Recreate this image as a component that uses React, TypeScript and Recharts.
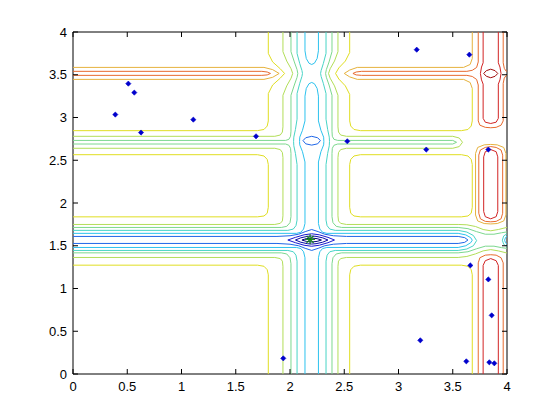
import { ScatterChart, Scatter, XAxis, YAxis } from "recharts";

// Contour plot with sample points. Every line below is one contour
// polyline, in data units (x and y both 0..4).

type P = [number, number];

const TICKS = [0, 0.5, 1, 1.5, 2, 2.5, 3, 3.5, 4];
const TICK_LABELS = ["0", "0.5", "1", "1.5", "2", "2.5", "3", "3.5", "4"];

const C_Y = "#E0DE22";
const C_YG = "#B2DE58";
const C_G = "#7CD88E";
const C_CG = "#48D4C6";
const C_C = "#2CC2EE";
const C_B = "#1E66E8";
const C_DB = "#1818D0";
const C_N1 = "#0808A8";
const C_N2 = "#00007C";
const C_O1 = "#E6B23E";
const C_O2 = "#E86A2E";
const C_R = "#D22424";
const C_DR = "#A00C0C";

// yellow level: edges of the white tiles
const Y_A: P[] = [[0, 2.846], [1.7, 2.846], [1.76, 2.86], [1.79, 2.9], [1.8, 2.96], [1.8, 3.28], [1.84, 3.38], [1.91, 3.46], [1.95, 3.515], [1.91, 3.57], [1.84, 3.65], [1.8, 3.75], [1.8, 4.0]];
const Y_B: P[] = [[0, 2.565], [1.7, 2.565], [1.76, 2.55], [1.79, 2.51], [1.8, 2.45], [1.8, 1.95], [1.79, 1.88], [1.76, 1.848], [1.7, 1.838], [0, 1.838]];
const Y_C: P[] = [[0, 1.273], [1.7, 1.273], [1.76, 1.26], [1.79, 1.22], [1.8, 1.16], [1.8, 0]];
const Y_D: P[] = [[2.55, 0], [2.55, 1.16], [2.56, 1.22], [2.59, 1.26], [2.65, 1.273], [3.58, 1.273], [3.64, 1.26], [3.67, 1.22], [3.68, 1.16], [3.68, 0]];
const Y_E: P[] = [[2.55, 1.95], [2.55, 2.45], [2.56, 2.51], [2.59, 2.55], [2.65, 2.565], [3.58, 2.565], [3.64, 2.55], [3.67, 2.51], [3.68, 2.45], [3.68, 1.95], [3.67, 1.88], [3.64, 1.848], [3.58, 1.838], [2.65, 1.838], [2.59, 1.848], [2.56, 1.88], [2.55, 1.95]];
const Y_F: P[] = [[2.55, 4.0], [2.55, 3.76], [2.51, 3.66], [2.45, 3.58], [2.42, 3.515], [2.45, 3.45], [2.51, 3.37], [2.55, 3.27], [2.55, 2.96], [2.56, 2.9], [2.59, 2.86], [2.65, 2.846], [3.58, 2.846], [3.64, 2.86], [3.67, 2.9], [3.68, 2.96], [3.68, 3.34]];
const O1_R: P[] = [[3.68, 3.34], [3.66, 3.41], [3.6, 3.446], [2.62, 3.446], [2.55, 3.475], [2.5, 3.515], [2.55, 3.555], [2.62, 3.586], [3.6, 3.586], [3.66, 3.62], [3.68, 3.69], [3.68, 4.0]];
const O1_L: P[] = [[0, 3.586], [1.76, 3.586], [1.84, 3.56], [1.9, 3.515], [1.84, 3.47], [1.76, 3.446], [0, 3.446]];
const O1_B: P[] = [[3.71, 1.86], [3.71, 2.58], [3.73, 2.65], [3.79, 2.68], [3.85, 2.685], [3.91, 2.68], [3.97, 2.65], [3.99, 2.58], [3.99, 1.86], [3.97, 1.79], [3.91, 1.76], [3.85, 1.755], [3.79, 1.76], [3.73, 1.79], [3.71, 1.86]];

// yellow-green level
const YG_A: P[] = [[0, 2.78], [1.86, 2.78], [1.91, 2.795], [1.93, 2.83], [1.935, 2.89], [1.935, 3.26], [1.97, 3.37], [2.01, 3.46], [2.025, 3.515], [2.01, 3.57], [1.97, 3.66], [1.935, 3.77], [1.935, 4.0]];
const YG_B: P[] = [[0, 2.64], [1.86, 2.64], [1.91, 2.625], [1.93, 2.59], [1.935, 2.53], [1.935, 1.85], [1.93, 1.79], [1.91, 1.762], [1.86, 1.749], [0, 1.749]];
const YG_C: P[] = [[0, 1.363], [1.86, 1.363], [1.91, 1.35], [1.93, 1.32], [1.935, 1.26], [1.935, 0]];
const YG_D: P[] = [[2.442, 0], [2.442, 1.26], [2.447, 1.32], [2.467, 1.35], [2.52, 1.363], [3.55, 1.363], [3.63, 1.375], [3.71, 1.405], [3.78, 1.44], [3.85, 1.455], [3.92, 1.44], [4.0, 1.415]];
const YG_E: P[] = [[4.0, 1.715], [3.92, 1.69], [3.85, 1.675], [3.78, 1.69], [3.71, 1.725], [3.63, 1.745], [3.55, 1.749], [2.52, 1.749], [2.467, 1.762], [2.447, 1.79], [2.442, 1.85], [2.442, 2.53], [2.447, 2.59], [2.467, 2.625], [2.52, 2.64], [3.5, 2.64], [3.56, 2.66], [3.59, 2.71], [3.56, 2.76], [3.5, 2.78], [2.52, 2.78], [2.467, 2.795], [2.447, 2.83], [2.442, 2.89], [2.442, 3.26], [2.41, 3.37], [2.37, 3.46], [2.355, 3.515], [2.37, 3.57], [2.41, 3.66], [2.442, 3.77], [2.442, 4.0]];

// green level
const G_A: P[] = [[0, 2.732], [1.96, 2.732], [1.99, 2.745], [2.005, 2.78], [2.009, 2.84], [2.009, 3.26], [2.04, 3.38], [2.065, 3.47], [2.072, 3.515], [2.065, 3.56], [2.04, 3.65], [2.009, 3.77], [2.009, 4.0]];
const G_B: P[] = [[0, 2.69], [1.96, 2.69], [1.99, 2.675], [2.005, 2.64], [2.009, 2.58], [2.009, 1.84], [2.0, 1.77], [1.97, 1.727], [1.92, 1.714], [0, 1.714]];
const G_C: P[] = [[0, 1.417], [1.92, 1.417], [1.97, 1.404], [2.0, 1.36], [2.009, 1.29], [2.009, 0]];
const G_D: P[] = [[2.387, 0], [2.387, 1.29], [2.396, 1.36], [2.426, 1.404], [2.476, 1.417], [3.55, 1.417], [3.64, 1.43], [3.72, 1.465], [3.8, 1.495], [3.88, 1.495], [3.95, 1.478], [4.0, 1.469]];
const G_E: P[] = [[4.0, 1.662], [3.95, 1.652], [3.88, 1.635], [3.8, 1.635], [3.72, 1.665], [3.64, 1.7], [3.55, 1.714], [2.476, 1.714], [2.426, 1.727], [2.396, 1.77], [2.387, 1.84], [2.387, 2.58], [2.39, 2.64], [2.405, 2.675], [2.44, 2.69], [3.5, 2.69], [3.535, 2.71], [3.5, 2.732], [2.44, 2.732], [2.405, 2.745], [2.39, 2.78], [2.387, 2.84], [2.387, 3.26], [2.36, 3.38], [2.335, 3.47], [2.328, 3.515], [2.335, 3.56], [2.36, 3.65], [2.387, 3.77], [2.387, 4.0]];

// cyan-green level
const CG_A: P[] = [[0, 1.68], [1.98, 1.68], [2.03, 1.695], [2.055, 1.735], [2.065, 1.8], [2.065, 2.45], [2.05, 2.58], [2.035, 2.67], [2.033, 2.72], [2.035, 2.77], [2.05, 2.86], [2.065, 2.98], [2.065, 3.28], [2.09, 3.4], [2.11, 3.48], [2.115, 3.515], [2.11, 3.55], [2.09, 3.63], [2.065, 3.75], [2.065, 4.0]];
const CG_B: P[] = [[0, 1.445], [1.98, 1.445], [2.03, 1.43], [2.055, 1.39], [2.065, 1.32], [2.065, 0]];
const CG_C: P[] = [[2.332, 0], [2.332, 1.32], [2.342, 1.39], [2.367, 1.43], [2.417, 1.445], [3.55, 1.445], [3.63, 1.462], [3.69, 1.5], [3.72, 1.56], [3.69, 1.62], [3.63, 1.66], [3.55, 1.68], [2.417, 1.68], [2.367, 1.695], [2.342, 1.735], [2.332, 1.8], [2.332, 2.45], [2.347, 2.58], [2.362, 2.67], [2.364, 2.72], [2.362, 2.77], [2.347, 2.86], [2.332, 2.98], [2.332, 3.28], [2.307, 3.4], [2.287, 3.48], [2.282, 3.515], [2.287, 3.55], [2.307, 3.63], [2.332, 3.75], [2.332, 4.0]];
const CG_ARC: P[] = [[4.0, 1.64], [3.97, 1.615], [3.957, 1.565], [3.97, 1.515], [4.0, 1.49]];

// cyan level
const C_A: P[] = [[0, 1.645], [2.06, 1.645], [2.1, 1.658], [2.125, 1.695], [2.138, 1.76], [2.138, 2.48], [2.115, 2.6], [2.09, 2.68], [2.088, 2.72], [2.09, 2.77], [2.115, 2.85], [2.138, 2.96], [2.138, 3.25], [2.15, 3.34], [2.175, 3.395], [2.2, 3.41], [2.225, 3.395], [2.25, 3.34], [2.262, 3.25], [2.262, 2.96], [2.285, 2.85], [2.31, 2.77], [2.312, 2.72], [2.31, 2.68], [2.285, 2.6], [2.262, 2.48], [2.262, 1.76], [2.275, 1.695], [2.3, 1.658], [2.34, 1.645], [3.55, 1.645], [3.62, 1.627], [3.665, 1.595], [3.68, 1.565], [3.665, 1.535], [3.62, 1.5], [3.55, 1.48], [2.34, 1.48], [2.3, 1.467], [2.275, 1.43], [2.262, 1.36], [2.262, 0]];
const C_BL: P[] = [[0, 1.48], [2.06, 1.48], [2.1, 1.467], [2.125, 1.43], [2.138, 1.36], [2.138, 0]];
const C_U: P[] = [[2.138, 4.0], [2.138, 3.78], [2.15, 3.69], [2.175, 3.635], [2.2, 3.62], [2.225, 3.635], [2.25, 3.69], [2.262, 3.78], [2.262, 4.0]];
const C_ARC: P[] = [[4.0, 1.615], [3.985, 1.59], [3.978, 1.565], [3.985, 1.54], [4.0, 1.515]];

// blue levels and the closed loops round the minimum
const B_L: P[] = [[0, 1.609], [1.88, 1.609], [2.0, 1.617], [2.08, 1.635], [2.14, 1.665], [2.2, 1.69], [2.26, 1.665], [2.32, 1.635], [2.4, 1.617], [2.52, 1.609], [3.55, 1.609], [3.61, 1.595], [3.64, 1.567], [3.61, 1.54], [3.55, 1.527], [2.52, 1.527], [2.4, 1.518], [2.32, 1.5], [2.26, 1.47], [2.2, 1.445], [2.14, 1.47], [2.08, 1.5], [2.0, 1.518], [1.88, 1.527], [0, 1.527]];
const B_2: P[] = [[2.12, 2.73], [2.145, 2.763], [2.2, 2.78], [2.255, 2.763], [2.28, 2.73], [2.255, 2.692], [2.2, 2.677], [2.145, 2.692], [2.12, 2.73]];
const DB_L: P[] = [[1.98, 1.567], [2.05, 1.598], [2.13, 1.628], [2.2, 1.64], [2.27, 1.628], [2.35, 1.598], [2.41, 1.567], [2.35, 1.536], [2.27, 1.506], [2.2, 1.494], [2.13, 1.506], [2.05, 1.536], [1.98, 1.567]];
const N1_L: P[] = [[2.05, 1.567], [2.1, 1.593], [2.16, 1.61], [2.2, 1.614], [2.24, 1.61], [2.3, 1.593], [2.35, 1.567], [2.3, 1.541], [2.24, 1.524], [2.2, 1.52], [2.16, 1.524], [2.1, 1.541], [2.05, 1.567]];
const N2_L: P[] = [[2.11, 1.567], [2.15, 1.583], [2.2, 1.59], [2.25, 1.583], [2.29, 1.567], [2.25, 1.551], [2.2, 1.544], [2.15, 1.551], [2.11, 1.567]];

// orange / red ridge levels
const O2_L: P[] = [[0, 3.54], [1.74, 3.54], [1.79, 3.532], [1.82, 3.515], [1.79, 3.498], [1.74, 3.493], [0, 3.493]];
const O2_A: P[] = [[3.735, 4.0], [3.735, 3.65], [3.72, 3.585], [3.68, 3.552], [3.63, 3.54], [2.66, 3.54], [2.61, 3.532], [2.58, 3.515], [2.61, 3.498], [2.66, 3.493], [3.63, 3.493], [3.68, 3.48], [3.72, 3.445], [3.735, 3.38], [3.735, 2.96], [3.75, 2.91], [3.8, 2.885], [3.85, 2.88], [3.9, 2.885], [3.945, 2.91], [3.965, 2.96], [3.965, 3.4], [3.975, 3.46], [3.99, 3.488], [4.0, 3.493]];
const O2_ATR: P[] = [[4.0, 3.54], [3.99, 3.545], [3.975, 3.575], [3.965, 3.64], [3.965, 4.0]];
const O2_B: P[] = [[3.74, 1.88], [3.74, 2.56], [3.755, 2.62], [3.8, 2.65], [3.85, 2.66], [3.9, 2.65], [3.945, 2.62], [3.96, 2.56], [3.96, 1.88], [3.945, 1.815], [3.9, 1.785], [3.85, 1.78], [3.8, 1.785], [3.755, 1.815], [3.74, 1.88]];
const O2_C: P[] = [[3.735, 0], [3.735, 1.3], [3.75, 1.36], [3.8, 1.39], [3.85, 1.395], [3.9, 1.39], [3.945, 1.36], [3.965, 1.3], [3.965, 0]];
const R_A: P[] = [[3.78, 4.0], [3.78, 3.64], [3.765, 3.59], [3.755, 3.515], [3.765, 3.44], [3.78, 3.39], [3.78, 2.99], [3.8, 2.945], [3.85, 2.93], [3.9, 2.945], [3.92, 2.99], [3.92, 3.39], [3.935, 3.44], [3.945, 3.515], [3.935, 3.59], [3.92, 3.64], [3.92, 4.0]];
const R_B: P[] = [[3.785, 1.9], [3.785, 2.54], [3.8, 2.6], [3.85, 2.625], [3.9, 2.6], [3.915, 2.54], [3.915, 1.9], [3.9, 1.84], [3.85, 1.815], [3.8, 1.84], [3.785, 1.9]];
const R_C: P[] = [[3.78, 0], [3.78, 1.27], [3.8, 1.325], [3.85, 1.35], [3.9, 1.325], [3.92, 1.27], [3.92, 0]];
const DR_L: P[] = [[3.785, 3.515], [3.81, 3.548], [3.85, 3.565], [3.89, 3.548], [3.915, 3.515], [3.89, 3.482], [3.85, 3.465], [3.81, 3.482], [3.785, 3.515]];

// sample points and the best point
const POINT_X = [0.39, 0.51, 0.565, 0.627, 1.109, 1.687, 2.528, 3.168, 3.653, 3.256, 3.828, 3.662, 3.828, 3.859, 3.201, 3.625, 3.837, 3.883, 1.938];
const POINT_Y = [3.034, 3.396, 3.291, 2.824, 2.975, 2.78, 2.722, 3.793, 3.735, 2.625, 2.625, 1.27, 1.106, 0.686, 0.394, 0.148, 0.137, 0.125, 0.183];
const BEST_X = [2.185];
const BEST_Y = [1.575];

const CONTOURS: { pts: P[]; color: string }[] = [
  { pts: Y_A, color: C_Y },
  { pts: Y_B, color: C_Y },
  { pts: Y_C, color: C_Y },
  { pts: Y_D, color: C_Y },
  { pts: Y_E, color: C_Y },
  { pts: Y_F, color: C_Y },
  { pts: O1_R, color: C_O1 },
  { pts: O1_L, color: C_O1 },
  { pts: O1_B, color: C_O1 },
  { pts: YG_A, color: C_YG },
  { pts: YG_B, color: C_YG },
  { pts: YG_C, color: C_YG },
  { pts: YG_D, color: C_YG },
  { pts: YG_E, color: C_YG },
  { pts: G_A, color: C_G },
  { pts: G_B, color: C_G },
  { pts: G_C, color: C_G },
  { pts: G_D, color: C_G },
  { pts: G_E, color: C_G },
  { pts: CG_A, color: C_CG },
  { pts: CG_B, color: C_CG },
  { pts: CG_C, color: C_CG },
  { pts: CG_ARC, color: C_CG },
  { pts: C_A, color: C_C },
  { pts: C_BL, color: C_C },
  { pts: C_U, color: C_C },
  { pts: C_ARC, color: C_C },
  { pts: B_L, color: C_B },
  { pts: B_2, color: C_B },
  { pts: DB_L, color: C_DB },
  { pts: N1_L, color: C_N1 },
  { pts: N2_L, color: C_N2 },
  { pts: O2_L, color: C_O2 },
  { pts: O2_A, color: C_O2 },
  { pts: O2_ATR, color: C_O2 },
  { pts: O2_B, color: C_O2 },
  { pts: O2_C, color: C_O2 },
  { pts: R_A, color: C_R },
  { pts: R_B, color: C_R },
  { pts: R_C, color: C_R },
  { pts: DR_L, color: C_DR },
];

const FONT = "'Liberation Sans', Arial, Helvetica, sans-serif";
const TICK_LEN = 5;

const rows = (pts: P[]) => pts.map(([x, y]) => ({ x, y }));
const pointRows = POINT_X.map((x, i) => ({ x, y: POINT_Y[i] }));
const bestRows = BEST_X.map((x, i) => ({ x, y: BEST_Y[i] }));

const label = (v: number) => TICK_LABELS[TICKS.indexOf(v)] ?? String(v);

function NoDot() {
  return null;
}

function SampleDot(props: any) {
  const { cx, cy } = props;
  if (cx == null || cy == null) return null;
  const r = 2.6;
  return (
    <path
      d={`M${cx - r},${cy}L${cx},${cy - r}L${cx + r},${cy}L${cx},${cy + r}Z`}
      fill="#0000CC"
      stroke="#0000CC"
      strokeWidth={0.6}
    />
  );
}

function BestDot(props: any) {
  const { cx, cy } = props;
  if (cx == null || cy == null) return null;
  const r = 5;
  const d = 3.5;
  return (
    <g stroke="#108010" strokeWidth={1.2}>
      <line x1={cx - r} y1={cy} x2={cx + r} y2={cy} />
      <line x1={cx} y1={cy - r} x2={cx} y2={cy + r} />
      <line x1={cx - d} y1={cy - d} x2={cx + d} y2={cy + d} />
      <line x1={cx - d} y1={cy + d} x2={cx + d} y2={cy - d} />
    </g>
  );
}

function BottomTick(props: any) {
  const { x, y, payload } = props;
  return (
    <g>
      <line x1={x} y1={y} x2={x} y2={y - TICK_LEN} stroke="#000" />
      <text x={x} y={y + 17} textAnchor="middle" fontSize={13} fontFamily={FONT} fill="#000">
        {label(payload.value)}
      </text>
    </g>
  );
}

function TopTick(props: any) {
  const { x, y } = props;
  return <line x1={x} y1={y} x2={x} y2={y + TICK_LEN} stroke="#000" />;
}

function LeftTick(props: any) {
  const { x, y, payload } = props;
  return (
    <g>
      <line x1={x} y1={y} x2={x + TICK_LEN} y2={y} stroke="#000" />
      <text x={x - 6} y={y + 4.5} textAnchor="end" fontSize={13} fontFamily={FONT} fill="#000">
        {label(payload.value)}
      </text>
    </g>
  );
}

function RightTick(props: any) {
  const { x, y } = props;
  return <line x1={x} y1={y} x2={x - TICK_LEN} y2={y} stroke="#000" />;
}

export default function App() {
  return (
    <div style={{ position: "absolute", left: 0, top: 0, width: 560, height: 420, background: "#fff" }}>
      <ScatterChart width={560} height={420} margin={{ top: 22, right: 43, bottom: 16, left: 13 }}>
        <XAxis
          type="number"
          dataKey="x"
          domain={[0, 4]}
          ticks={TICKS}
          interval={0}
          height={30}
          tickSize={0}
          tickMargin={0}
          tickLine={false}
          axisLine={{ stroke: "#000" }}
          tick={<BottomTick />}
          allowDataOverflow
        />
        <XAxis
          xAxisId="top"
          orientation="top"
          type="number"
          dataKey="x"
          domain={[0, 4]}
          ticks={TICKS}
          interval={0}
          height={10}
          tickSize={0}
          tickMargin={0}
          tickLine={false}
          axisLine={{ stroke: "#000" }}
          tick={<TopTick />}
          allowDataOverflow
        />
        <YAxis
          type="number"
          dataKey="y"
          domain={[0, 4]}
          ticks={TICKS}
          interval={0}
          width={60}
          tickSize={0}
          tickMargin={0}
          tickLine={false}
          axisLine={{ stroke: "#000" }}
          tick={<LeftTick />}
          allowDataOverflow
        />
        <YAxis
          yAxisId="right"
          orientation="right"
          type="number"
          dataKey="y"
          domain={[0, 4]}
          ticks={TICKS}
          interval={0}
          width={10}
          tickSize={0}
          tickMargin={0}
          tickLine={false}
          axisLine={{ stroke: "#000" }}
          tick={<RightTick />}
          allowDataOverflow
        />
        {CONTOURS.map((c, i) => (
          <Scatter
            key={i}
            data={rows(c.pts)}
            fill={c.color}
            line={{ stroke: c.color, strokeWidth: 1 }}
            lineType="joint"
            shape={<NoDot />}
            legendType="none"
            isAnimationActive={false}
          />
        ))}
        <Scatter data={pointRows} shape={<SampleDot />} legendType="none" isAnimationActive={false} />
        <Scatter data={bestRows} shape={<BestDot />} legendType="none" isAnimationActive={false} />
      </ScatterChart>
    </div>
  );
}
